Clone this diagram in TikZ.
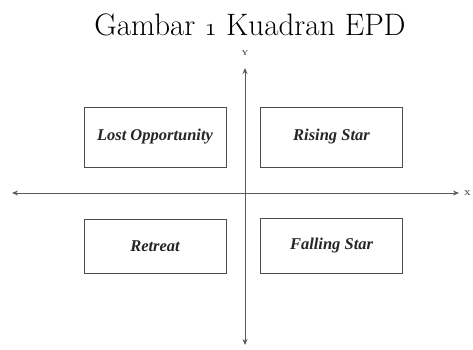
\documentclass[tikz,border=0pt]{standalone}
\usepackage{fontspec}
\newfontfamily\boxfont{Liberation Serif}
\usetikzlibrary{arrows.meta}
\newcommand{\osone}{{\usefont{OML}{cmm}{m}{it}1}}
\begin{document}
\begin{tikzpicture}[x=1pt,y=1pt,
  axis/.style={draw=black!65, line width=0.9pt, -{Stealth[length=6pt,width=5pt]}},
  quad/.style={draw=black!70, line width=0.9pt, minimum width=142pt, minimum height=60pt, inner sep=0pt,
    font=\boxfont\bfseries\itshape\fontsize{16.5}{18}\selectfont, text=black!85},
  axlabel/.style={font=\bfseries\fontsize{7}{8}\selectfont, text=black!70, inner sep=0pt}]
\useasboundingbox (0,0) rectangle (473,350);
\fill[white] (0,0) rectangle (473,350);
\node[font=\fontsize{31}{34}\selectfont, anchor=base] (title) at (250,314) {Gambar \osone\ Kuadran EPD};
\coordinate (o) at (245,157);
\coordinate (yt) at (245,282);
\coordinate (yb) at (245,5);
\coordinate (xl) at (12,157);
\coordinate (xr) at (459,157);
\draw[axis] (o) -- (yt);
\draw[axis] (o) -- (yb);
\draw[axis] (o) -- (xl);
\draw[axis] (o) -- (xr);
\node[axlabel] (ylab) at (245,297) {Y};
\node[axlabel, anchor=west] (xlab) at (464,157) {X};
\node[quad] (lo) at (155,213) {Lost Opportunity};
\node[quad] (rs) at (331.5,213) {Rising Star};
\node[quad, minimum height=54pt] (re) at (155,104) {Retreat};
\node[quad, minimum height=55pt] (fs) at (331.5,104.5) {Falling Star};
\end{tikzpicture}
\end{document}
